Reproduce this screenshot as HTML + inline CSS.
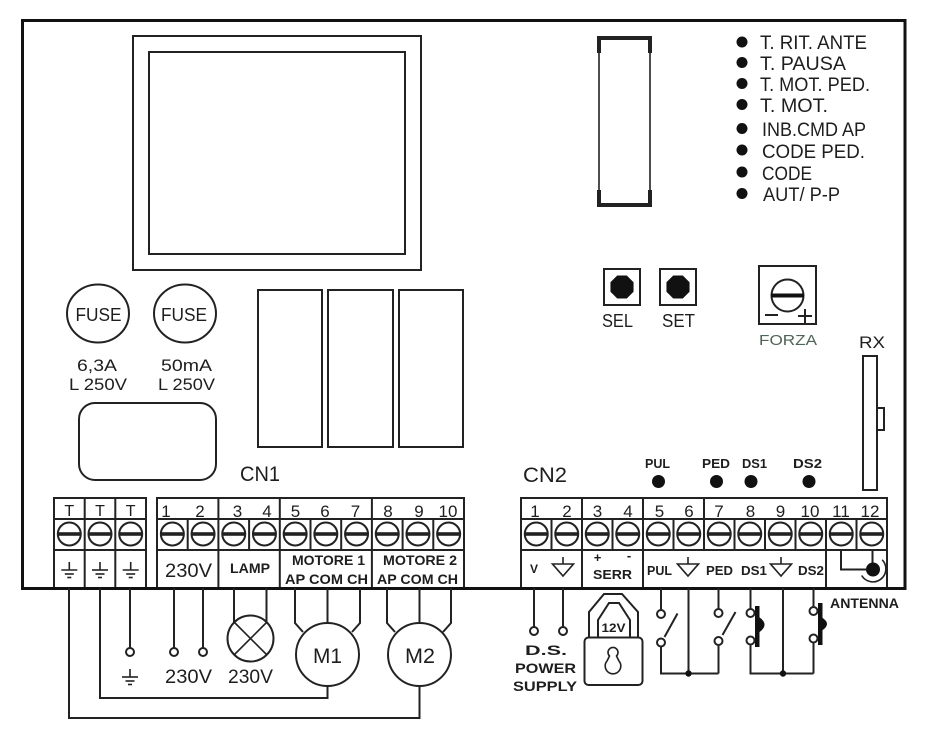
<!DOCTYPE html>
<html><head><meta charset="utf-8"><style>
html,body{margin:0;padding:0;background:#fff;}
svg{display:block;}
text{font-family:"Liberation Sans",Arial,sans-serif;fill:#1e1e1e;}
.b{font-weight:bold;}
</style></head><body>
<svg width="928" height="750" viewBox="0 0 928 750" xmlns="http://www.w3.org/2000/svg">
<defs>
<g id="sc"><circle r="11.5" fill="#fff" stroke="#222" stroke-width="2"/><rect x="-11.5" y="-1.8" width="23" height="3.6" fill="#222"/></g>
<g id="gnd" stroke="#222" stroke-width="1.6" fill="none"><line x1="0" y1="-8" x2="0" y2="0"/><line x1="-8" y1="0" x2="8" y2="0"/><line x1="-4.5" y1="4" x2="4.5" y2="4"/><line x1="-2" y1="7.5" x2="2" y2="7.5"/></g>
<g id="sg" fill="none" stroke="#222" stroke-width="1.6"><line x1="0" y1="-7" x2="0" y2="0"/><path d="M-10.5 0 H10.5 L0 12 Z"/></g>
<polygon id="oct" points="11.55,4.78 4.78,11.55 -4.78,11.55 -11.55,4.78 -11.55,-4.78 -4.78,-11.55 4.78,-11.55 11.55,-4.78" fill="#111"/>
</defs>

<!-- board -->
<rect x="22.5" y="20.5" width="882.5" height="568" fill="none" stroke="#111" stroke-width="3"/>

<!-- display -->
<g fill="none" stroke="#222" stroke-width="2">
<rect x="133" y="36" width="288" height="234"/>
<rect x="149" y="52" width="256" height="202"/>
<!-- connector top right -->
<rect x="599" y="38" width="51" height="167" stroke-width="1.6"/>
<path d="M599 53 V38 H650 V53" stroke-width="4"/>
<path d="M599 190 V205 H650 V190" stroke-width="4"/>
<!-- fuses -->
<ellipse cx="98" cy="313.5" rx="31" ry="29"/>
<ellipse cx="185" cy="313.5" rx="31" ry="29"/>
<rect x="79" y="403" width="137" height="77" rx="16"/>
<!-- relays -->
<rect x="258" y="290" width="64" height="157"/>
<rect x="328" y="290" width="65" height="157"/>
<rect x="399" y="290" width="64" height="157"/>
<!-- SEL SET -->
<rect x="604" y="269" width="36" height="36"/>
<rect x="660" y="269" width="36" height="36"/>
<!-- FORZA -->
<rect x="759" y="266" width="57" height="58"/>
<circle cx="787.5" cy="295.5" r="16"/>
<line x1="765" y1="315" x2="778" y2="315"/>
<line x1="798" y1="316" x2="812" y2="316"/>
<line x1="805" y1="309" x2="805" y2="323"/>
<!-- RX -->
<rect x="863" y="356" width="14" height="134"/>
<rect x="877" y="408" width="7" height="22"/>
</g>
<rect x="771" y="293.5" width="33" height="4" fill="#111"/>
<use href="#oct" x="622" y="287"/>
<use href="#oct" x="678" y="287"/>

<!-- LED list -->
<g fill="#111">
<circle cx="742" cy="42" r="5.5"/><circle cx="742" cy="62.5" r="5.5"/><circle cx="742" cy="83.5" r="5.5"/><circle cx="742" cy="104.5" r="5.5"/>
<circle cx="742" cy="128.5" r="5.5"/><circle cx="742" cy="150" r="5.5"/><circle cx="742" cy="172" r="5.5"/><circle cx="742" cy="193.5" r="5.5"/>
</g>
<g font-size="19">
<text x="760" y="49" textLength="107" lengthAdjust="spacingAndGlyphs">T. RIT. ANTE</text>
<text x="760" y="70" textLength="86" lengthAdjust="spacingAndGlyphs">T. PAUSA</text>
<text x="760" y="91" textLength="110" lengthAdjust="spacingAndGlyphs">T. MOT. PED.</text>
<text x="760" y="112" textLength="68" lengthAdjust="spacingAndGlyphs">T. MOT.</text>
<text x="762" y="136" textLength="104" lengthAdjust="spacingAndGlyphs">INB.CMD AP</text>
<text x="762" y="158" textLength="103" lengthAdjust="spacingAndGlyphs">CODE  PED.</text>
<text x="762" y="180" textLength="50" lengthAdjust="spacingAndGlyphs">CODE</text>
<text x="763" y="201" textLength="77" lengthAdjust="spacingAndGlyphs">AUT/ P-P</text>
</g>

<!-- fuse texts -->
<g font-size="18" text-anchor="middle">
<text x="98.5" y="321" textLength="46" lengthAdjust="spacingAndGlyphs">FUSE</text>
<text x="184" y="321" textLength="46" lengthAdjust="spacingAndGlyphs">FUSE</text>
</g>
<g font-size="17" text-anchor="middle">
<text x="97" y="371" textLength="40" lengthAdjust="spacingAndGlyphs">6,3A</text>
<text x="98" y="390" textLength="58" lengthAdjust="spacingAndGlyphs">L 250V</text>
<text x="186.5" y="371" textLength="51" lengthAdjust="spacingAndGlyphs">50mA</text>
<text x="186.5" y="390" textLength="57" lengthAdjust="spacingAndGlyphs">L 250V</text>
</g>

<text x="240" y="481" font-size="21" textLength="40" lengthAdjust="spacingAndGlyphs">CN1</text>
<text x="523" y="482" font-size="21" textLength="44" lengthAdjust="spacingAndGlyphs">CN2</text>

<g font-size="18" text-anchor="middle">
<text x="617.5" y="327" textLength="31" lengthAdjust="spacingAndGlyphs">SEL</text>
<text x="678.5" y="327" textLength="33" lengthAdjust="spacingAndGlyphs">SET</text>
<text x="872" y="348" font-size="17" textLength="26" lengthAdjust="spacingAndGlyphs">RX</text>
</g>
<text x="788" y="345" font-size="15" text-anchor="middle" textLength="58" lengthAdjust="spacingAndGlyphs" style="fill:#4f6457">FORZA</text>

<!-- bottom LEDs -->
<g fill="#111">
<circle cx="658.5" cy="481.5" r="6.5"/><circle cx="716.5" cy="481.5" r="6.5"/><circle cx="751" cy="481.5" r="6.5"/><circle cx="809" cy="481.5" r="6.5"/>
</g>
<g font-size="12.5" class="b" text-anchor="middle">
<text x="657.5" y="468" class="b" textLength="25" lengthAdjust="spacingAndGlyphs">PUL</text>
<text x="716" y="468" class="b" textLength="28" lengthAdjust="spacingAndGlyphs">PED</text>
<text x="754.5" y="468" class="b" textLength="25" lengthAdjust="spacingAndGlyphs">DS1</text>
<text x="807.5" y="468" class="b" textLength="29" lengthAdjust="spacingAndGlyphs">DS2</text>
</g>

<!-- T block -->
<g fill="none" stroke="#222" stroke-width="2">
<rect x="54" y="498" width="92" height="90"/>
<line x1="54" y1="519" x2="146" y2="519"/><line x1="54" y1="550" x2="146" y2="550"/>
<line x1="84.7" y1="498" x2="84.7" y2="588"/><line x1="115.3" y1="498" x2="115.3" y2="588"/>
<!-- CN1 block -->
<rect x="157" y="498" width="307" height="90"/>
<line x1="157" y1="519" x2="464" y2="519"/><line x1="157" y1="550" x2="464" y2="550"/>
<line x1="218.4" y1="498" x2="218.4" y2="588"/><line x1="279.8" y1="498" x2="279.8" y2="588"/><line x1="371.9" y1="498" x2="371.9" y2="588"/>
<line x1="187.7" y1="519" x2="187.7" y2="550"/><line x1="249.1" y1="519" x2="249.1" y2="550"/><line x1="310.5" y1="519" x2="310.5" y2="550"/>
<line x1="341.2" y1="519" x2="341.2" y2="550"/><line x1="402.6" y1="519" x2="402.6" y2="550"/><line x1="433.3" y1="519" x2="433.3" y2="550"/>
<!-- CN2 block -->
<rect x="521" y="498" width="366" height="90"/>
<line x1="521" y1="519" x2="887" y2="519"/><line x1="521" y1="550" x2="887" y2="550"/>
<line x1="582" y1="498" x2="582" y2="588"/><line x1="643" y1="498" x2="643" y2="588"/>
<line x1="704" y1="498" x2="704" y2="550"/><line x1="826" y1="519" x2="826" y2="588"/>
<line x1="551.5" y1="519" x2="551.5" y2="550"/><line x1="612.5" y1="519" x2="612.5" y2="550"/><line x1="673.5" y1="519" x2="673.5" y2="550"/>
<line x1="734.5" y1="519" x2="734.5" y2="550"/><line x1="765" y1="519" x2="765" y2="550"/><line x1="795.5" y1="519" x2="795.5" y2="550"/>
<line x1="856.5" y1="519" x2="856.5" y2="550"/>
</g>
<line x1="22" y1="588.5" x2="905" y2="588.5" stroke="#111" stroke-width="3"/>

<!-- screws -->
<use href="#sc" x="69.3" y="534"/><use href="#sc" x="100" y="534"/><use href="#sc" x="130.7" y="534"/>
<use href="#sc" x="172.35" y="534"/><use href="#sc" x="203.05" y="534"/><use href="#sc" x="233.75" y="534"/><use href="#sc" x="264.45" y="534"/><use href="#sc" x="295.15" y="534"/>
<use href="#sc" x="325.85" y="534"/><use href="#sc" x="356.55" y="534"/><use href="#sc" x="387.25" y="534"/><use href="#sc" x="417.95" y="534"/><use href="#sc" x="448.65" y="534"/>
<use href="#sc" x="536.25" y="534"/><use href="#sc" x="566.75" y="534"/><use href="#sc" x="597.25" y="534"/><use href="#sc" x="627.75" y="534"/><use href="#sc" x="658.25" y="534"/><use href="#sc" x="688.75" y="534"/>
<use href="#sc" x="719.25" y="534"/><use href="#sc" x="749.75" y="534"/><use href="#sc" x="780.25" y="534"/><use href="#sc" x="810.75" y="534"/><use href="#sc" x="841.25" y="534"/><use href="#sc" x="871.75" y="534"/>

<!-- numbers -->
<g font-size="17" text-anchor="middle">
<text x="69.3" y="516" font-size="16">T</text><text x="100" y="516" font-size="16">T</text><text x="130.7" y="516" font-size="16">T</text>
<text x="166" y="517">1</text><text x="200" y="517">2</text><text x="237.5" y="517">3</text><text x="267" y="517">4</text><text x="295.5" y="517">5</text>
<text x="325" y="517">6</text><text x="355.5" y="517">7</text><text x="388" y="517">8</text><text x="419" y="517">9</text><text x="448" y="517">10</text>
<text x="535" y="517">1</text><text x="567" y="517">2</text><text x="597.5" y="517">3</text><text x="628" y="517">4</text><text x="659.5" y="517">5</text><text x="689" y="517">6</text>
<text x="719" y="517">7</text><text x="750.5" y="517">8</text><text x="780.5" y="517">9</text><text x="810" y="517">10</text><text x="841" y="517">11</text><text x="870" y="517">12</text>
</g>

<!-- ground symbols T block -->
<use href="#gnd" x="69.3" y="570"/><use href="#gnd" x="100" y="570"/><use href="#gnd" x="130.7" y="570"/>

<!-- CN1 bottom labels -->
<text x="188.5" y="577" font-size="19" text-anchor="middle" textLength="47" lengthAdjust="spacingAndGlyphs">230V</text>
<text x="250" y="573" font-size="14" class="b" text-anchor="middle" textLength="40" lengthAdjust="spacingAndGlyphs">LAMP</text>
<g font-size="14" class="b" text-anchor="middle">
<text x="328.5" y="565" class="b" textLength="73" lengthAdjust="spacingAndGlyphs">MOTORE 1</text>
<text x="326.5" y="584" class="b" textLength="83" lengthAdjust="spacingAndGlyphs">AP COM CH</text>
<text x="420" y="565" class="b" textLength="74" lengthAdjust="spacingAndGlyphs">MOTORE 2</text>
<text x="417.5" y="584" class="b" textLength="81" lengthAdjust="spacingAndGlyphs">AP COM CH</text>
</g>

<!-- CN2 bottom labels -->
<g font-size="13" class="b" text-anchor="middle">
<text x="534" y="573" class="b" font-size="12">V</text>
<text x="597.5" y="562" class="b">+</text>
<text x="629" y="560" class="b">-</text>
<text x="612.5" y="579" class="b" textLength="39" lengthAdjust="spacingAndGlyphs">SERR</text>
<text x="659.5" y="575" class="b" textLength="25" lengthAdjust="spacingAndGlyphs">PUL</text>
<text x="719.5" y="575" class="b" textLength="27" lengthAdjust="spacingAndGlyphs">PED</text>
<text x="754" y="575" class="b" textLength="26" lengthAdjust="spacingAndGlyphs">DS1</text>
<text x="811" y="575" class="b" textLength="26" lengthAdjust="spacingAndGlyphs">DS2</text>
</g>
<use href="#sg" x="563" y="564"/>
<use href="#sg" x="688" y="564"/>
<use href="#sg" x="781" y="564"/>

<!-- antenna symbol -->
<g fill="none" stroke="#222" stroke-width="2">
<path d="M841 550 V569.5 H866"/>
<path d="M872.5 550 V563"/>
<path d="M861.7 575.5 A13 13 0 1 0 882.2 559.8" stroke-width="1.6"/>
</g>
<circle cx="873" cy="569.5" r="7" fill="#111"/>

<!-- CN1 wiring -->
<g fill="none" stroke="#222" stroke-width="2">
<path d="M69 588 V718 H419.5 V686"/>
<path d="M100 588 V698 H327.5 V686"/>
<path d="M130 588 V648"/><circle cx="130" cy="652" r="4"/>
<path d="M174 588 V648"/><circle cx="174" cy="652" r="4"/>
<path d="M203 588 V648"/><circle cx="203" cy="652" r="4"/>
<path d="M234 588 V622"/><path d="M266.5 588 V622"/>
<circle cx="250.5" cy="638.5" r="23"/>
<path d="M234 622 L267 655 M267 622 L234 655" stroke-width="1.6"/>
<path d="M295 588 V623 L303 632"/><path d="M327.5 588 V623"/><path d="M360 588 V623 L352 632"/>
<circle cx="327.5" cy="654.5" r="31.5"/>
<path d="M387 588 V623 L395 632"/><path d="M419.5 588 V623"/><path d="M451 588 V623 L443 632"/>
<circle cx="419.5" cy="654.5" r="31.5"/>
</g>
<use href="#gnd" x="130" y="677"/>
<g font-size="19" text-anchor="middle">
<text x="188.5" y="683" textLength="47" lengthAdjust="spacingAndGlyphs">230V</text>
<text x="250.5" y="683" textLength="45" lengthAdjust="spacingAndGlyphs">230V</text>
<text x="327.5" y="663" font-size="21" textLength="29" lengthAdjust="spacingAndGlyphs">M1</text>
<text x="420" y="663" font-size="21" textLength="30" lengthAdjust="spacingAndGlyphs">M2</text>
</g>

<!-- CN2 wiring -->
<g fill="none" stroke="#222" stroke-width="2">
<path d="M534 588 V627"/><circle cx="534" cy="631" r="4"/>
<path d="M563 588 V627"/><circle cx="563" cy="631" r="4"/>
<!-- padlock -->
<path d="M589 637 V612 L604 594 H622 L638 612 V637"/>
<path d="M598 637 V620 L609 603 H619 L630 620 V637"/>
<rect x="584.5" y="637.5" width="58" height="47.5" rx="4"/>
<path d="M609.5 656 A5 5 0 1 1 616.5 656 L619 661 A7.8 7.8 0 1 1 607 661 Z" stroke-width="1.6"/>
<!-- PUL -->
<path d="M661 588 V610"/><circle cx="661" cy="614" r="4"/><circle cx="661" cy="642.5" r="4"/>
<path d="M664.5 637 L677.5 613.5"/>
<path d="M661 646.5 V673.5 H718.5"/>
<path d="M688.5 588 V673.5"/>
<!-- PED -->
<path d="M718.5 588 V609"/><circle cx="718.5" cy="613" r="4"/><circle cx="718.5" cy="641" r="4"/>
<path d="M722.5 635 L735.5 612"/>
<path d="M718.5 645 V673.5"/>
<!-- DS1 -->
<path d="M750.5 588 V609"/><circle cx="750.5" cy="613" r="4"/><circle cx="750.5" cy="640.5" r="4"/>
<path d="M750.5 644.5 V673.5 H813.5"/>
<path d="M783 588 V673.5"/>
<!-- DS2 -->
<path d="M813.5 588 V607"/><circle cx="813.5" cy="611" r="4"/><circle cx="813.5" cy="638.5" r="4"/>
<path d="M813.5 642.5 V673.5"/>
</g>
<g fill="#111">
<circle cx="688.5" cy="673.5" r="3.2"/><circle cx="783" cy="673.5" r="3.2"/>
<rect x="755" y="606" width="4.5" height="41"/>
<path d="M759 617 Q770 624.5 759 632.5 Z"/>
<rect x="818" y="603" width="4.5" height="42"/>
<path d="M822 617.5 Q832 624 822 630.5 Z"/>
</g>
<text x="613.5" y="632" font-size="12" class="b" text-anchor="middle" textLength="24" lengthAdjust="spacingAndGlyphs">12V</text>
<g font-size="14" class="b" text-anchor="middle">
<text x="546" y="655" class="b" textLength="42" lengthAdjust="spacingAndGlyphs">D.S.</text>
<text x="545.5" y="673" class="b" textLength="61" lengthAdjust="spacingAndGlyphs">POWER</text>
<text x="545" y="691" class="b" textLength="64" lengthAdjust="spacingAndGlyphs">SUPPLY</text>
</g>
<text x="830" y="608" font-size="14" class="b" textLength="69" lengthAdjust="spacingAndGlyphs">ANTENNA</text>
</svg>
</body></html>
